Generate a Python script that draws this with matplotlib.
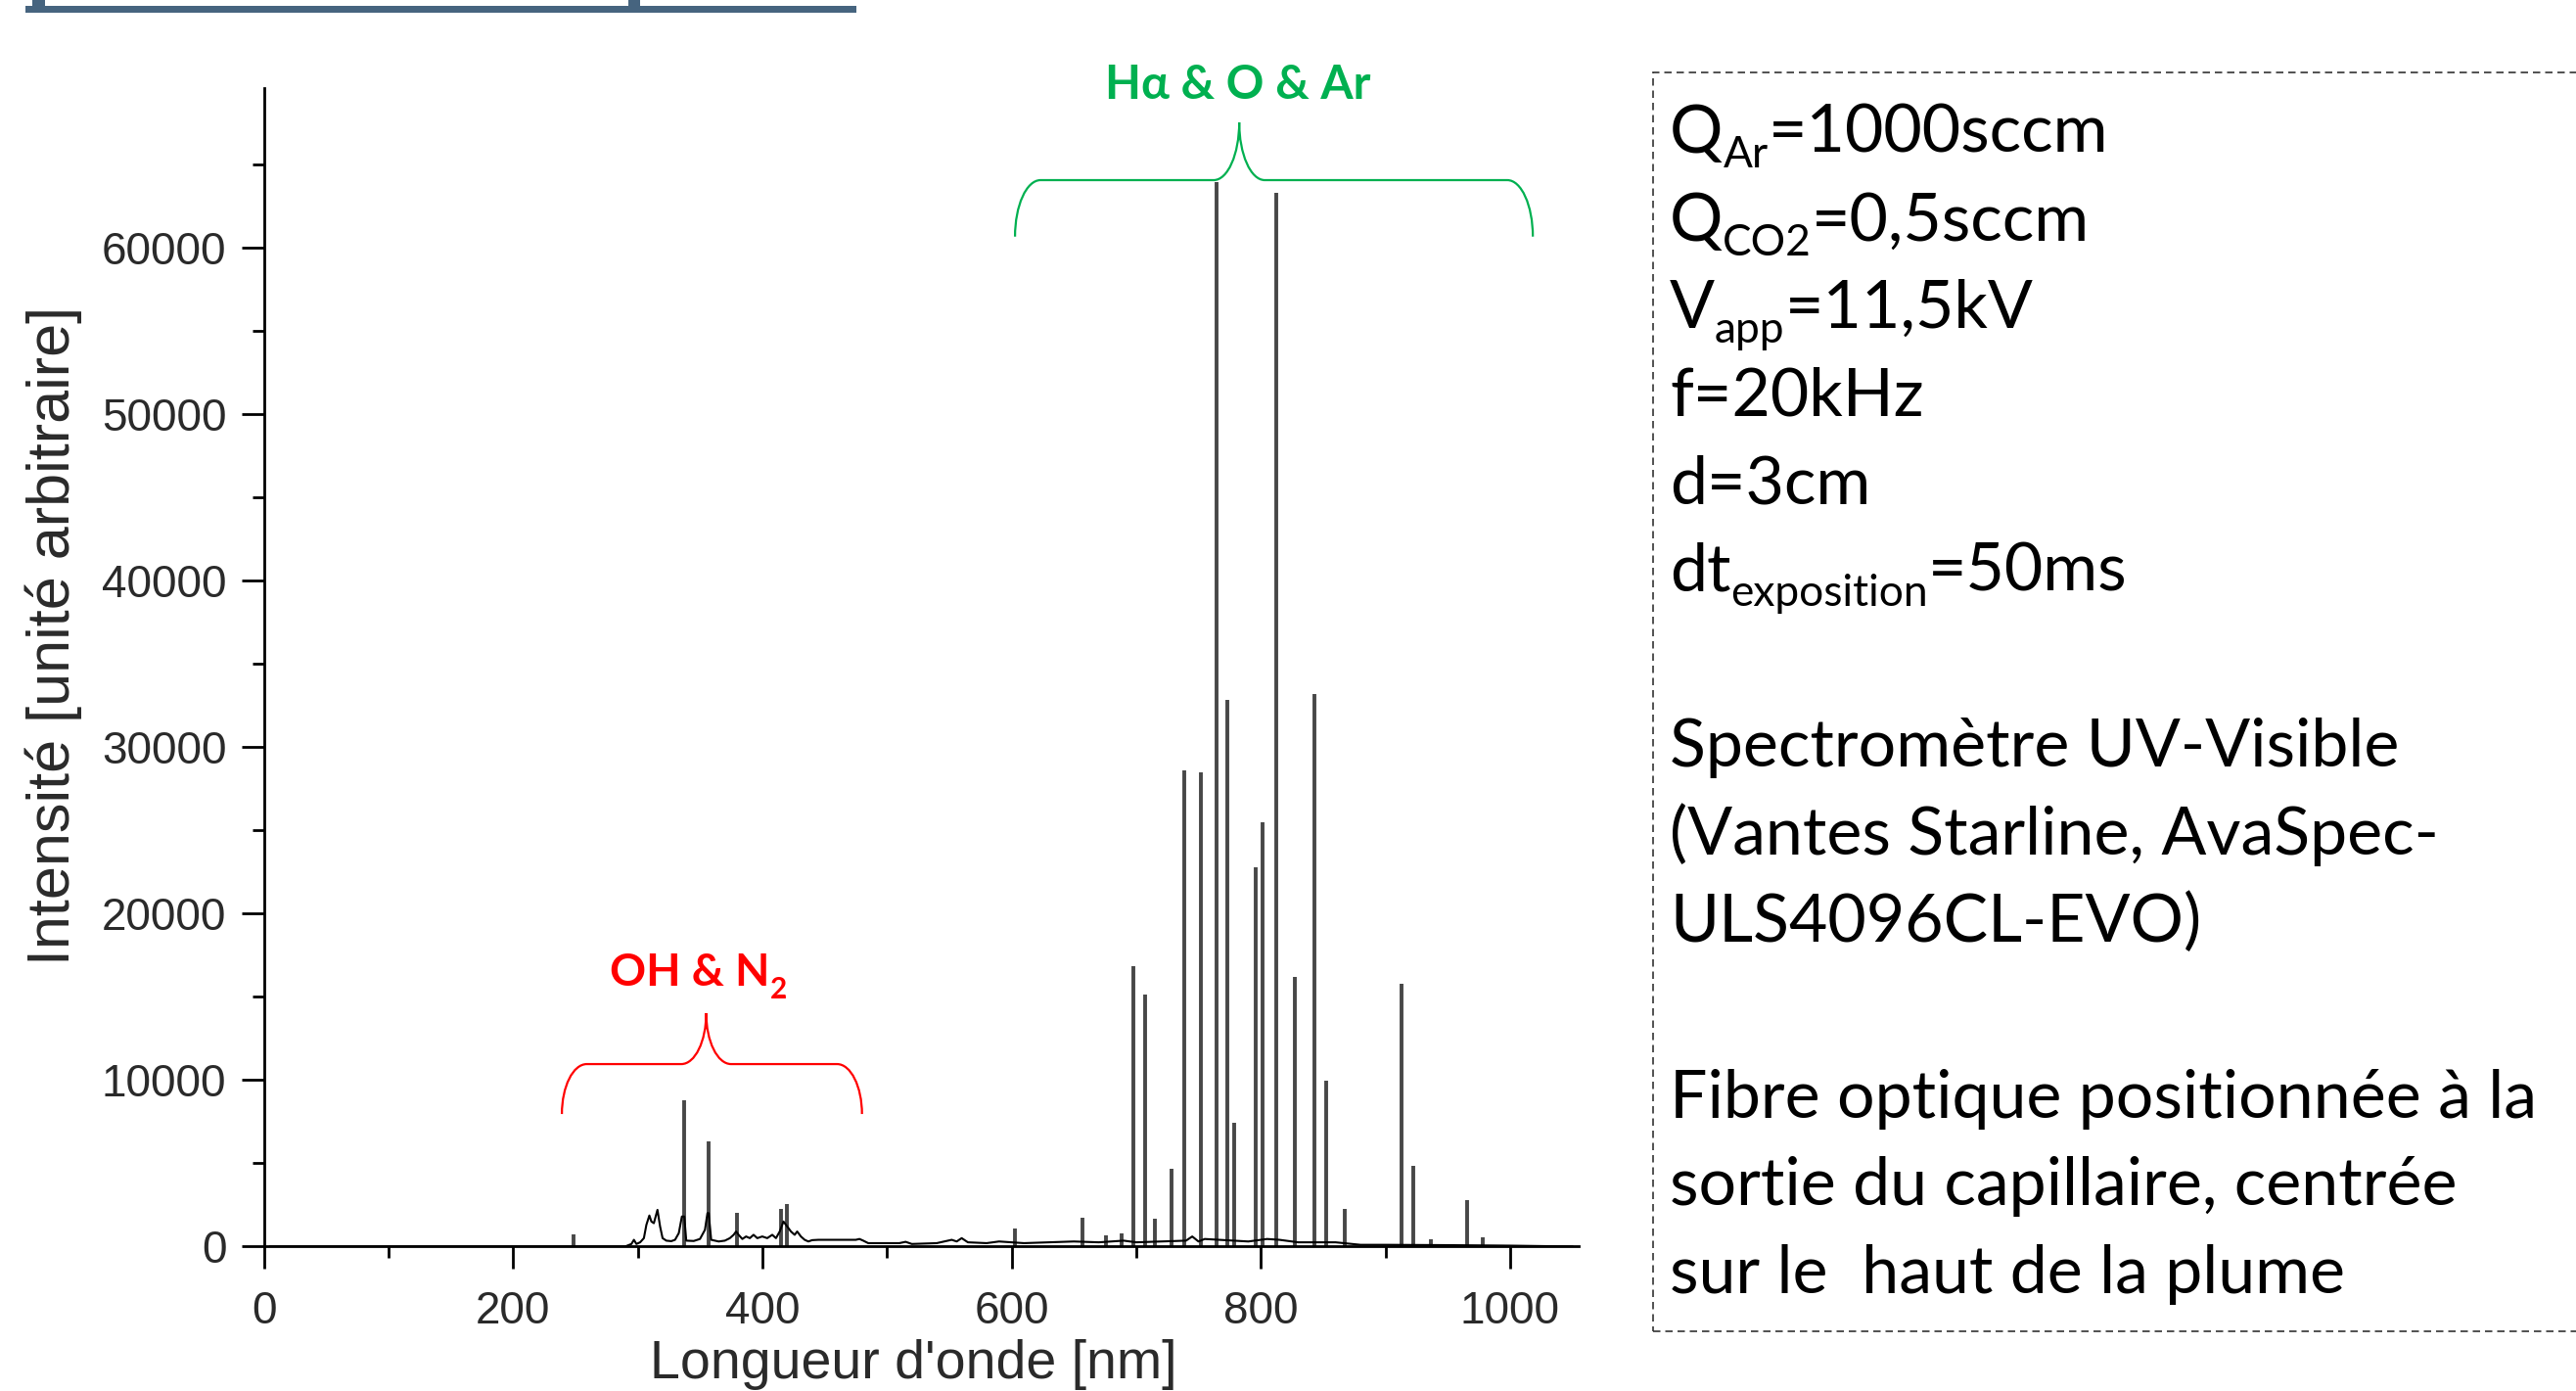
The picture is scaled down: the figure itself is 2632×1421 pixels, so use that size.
import re
import matplotlib.pyplot as plt
from matplotlib.path import Path
from matplotlib.patches import PathPatch, Rectangle

# emission lines (wavelength nm, intensity a.u.)
line_nm = [248.7, 337.4, 357.0, 380.0, 415.4, 419.8, 603.0, 656.8, 676.0, 688.0,
           697.5, 707.0, 715.4, 728.0, 738.8, 751.8, 764.6, 773.5, 778.3, 795.6,
           801.4, 812.1, 827.0, 842.8, 852.6, 867.5, 912.6, 922.4, 936.3, 965.9, 977.8]
line_counts = [725, 8760, 6330, 2000, 2250, 2550, 1090, 1700, 650, 780,
               16850, 15100, 1640, 4670, 28600, 28500, 63950, 32800, 7430, 22770,
               25490, 63290, 16200, 33180, 9940, 2250, 15770, 4840, 430, 2810, 560]

# background and molecular bands (OH, N2)
bg_nm = [5, 240, 290, 295, 297, 299, 302, 305, 307, 309.4, 311, 313, 315.9, 318, 320,
         323, 327, 330, 333, 335.5, 337.4, 339, 345, 350, 354, 356, 357.0, 359, 365,
         370, 374, 377, 379, 381, 384, 387, 390, 393, 396, 400, 404, 408, 411, 414,
         417, 420, 423, 426, 428, 431, 434, 437, 440, 445, 475, 478, 481, 485, 510,
         515, 520, 540, 552, 556, 560, 565, 580, 590, 600, 610, 630, 650, 670, 690,
         700, 720, 740, 745, 750, 755, 790, 805, 815, 830, 860, 880, 900, 950, 1000, 1050]
bg_counts = [0, 0, 0, 150, 400, 150, 250, 500, 1300, 1860, 1500, 1400, 2200, 1200, 500,
             350, 320, 400, 800, 1800, 1800, 350, 330, 450, 1000, 2000, 2000, 400, 300,
             350, 500, 700, 900, 700, 450, 600, 500, 700, 500, 600, 500, 700, 500, 900,
             1500, 1200, 900, 700, 900, 600, 400, 300, 380, 400, 400, 450, 350, 200, 200,
             280, 150, 200, 400, 300, 500, 250, 200, 300, 250, 200, 250, 300, 250, 350,
             250, 300, 350, 600, 300, 450, 300, 450, 400, 250, 250, 100, 100, 80, 50, 0]

x_ticks = [0, 200, 400, 600, 800, 1000]
y_ticks = [0, 10000, 20000, 30000, 40000, 50000, 60000]

conditions = ['Q_{Ar}=1000sccm',
              'Q_{CO2}=0,5sccm',
              'V_{app}=11,5kV',
              'f=20kHz',
              'd=3cm',
              'dt_{exposition}=50ms',
              '',
              'Spectromètre UV-Visible',
              '(Vantes Starline, AvaSpec-',
              'ULS4096CL-EVO)',
              '',
              'Fibre optique positionnée à la',
              'sortie du capillaire, centrée',
              'sur le  haut de la plume']

W, H = 2632, 1421
FONT = ['Lato', 'DejaVu Sans']


def draw_brace(ax, x0, x1, xm, y_end, y_mid, y_tip, dx, color):
    k = 0.552
    verts = [(x0, y_end),
             (x0, y_end + k * (y_mid - y_end)), (x0 + dx * (1 - k), y_mid), (x0 + dx, y_mid),
             (xm - dx, y_mid),
             (xm - dx * (1 - k), y_mid), (xm, y_tip - k * (y_tip - y_mid)), (xm, y_tip),
             (xm, y_tip - k * (y_tip - y_mid)), (xm + dx * (1 - k), y_mid), (xm + dx, y_mid),
             (x1 - dx, y_mid),
             (x1 - dx * (1 - k), y_mid), (x1, y_end + k * (y_mid - y_end)), (x1, y_end)]
    codes = [Path.MOVETO] + [Path.CURVE4] * 3 + [Path.LINETO] + [Path.CURVE4] * 6 \
        + [Path.LINETO] + [Path.CURVE4] * 3
    ax.add_patch(PathPatch(Path(verts, codes), fill=False, edgecolor=color,
                           lw=1.6, clip_on=False))


def sub_text(fig, renderer, x, y_top, txt, size, drop, **kw):
    # text with _{...} subscripts, x / y_top in pixels from the top-left corner
    base = H - y_top
    for part in re.split(r'(_\{[^}]*\})', txt):
        if not part:
            continue
        sub = part.startswith('_{')
        t = fig.text(x / W, (base - drop * sub) / H, part[2:-1] if sub else part,
                     fontsize=size * (0.65 if sub else 1), family=FONT,
                     va='baseline', ha='left', **kw)
        x = t.get_window_extent(renderer).x1


fig = plt.figure(figsize=(W / 100, H / 100), dpi=100)
ax = fig.add_axes([0.1024, 0.1039, 0.5104, 0.8327])
renderer = fig.canvas.get_renderer()

ax.vlines(line_nm, 0, line_counts, color='#474747', lw=2.8)
ax.plot(bg_nm, bg_counts, color='black', lw=1.5)

ax.set_xlim(0, 1055)
ax.set_ylim(0, 69560)
ax.set_xticks(x_ticks)
ax.set_xticks(range(100, 1001, 200), minor=True)
ax.set_yticks(y_ticks)
ax.set_yticks(range(5000, 66000, 10000), minor=True)
for s in ['top', 'right']:
    ax.spines[s].set_visible(False)
for s in ['left', 'bottom']:
    ax.spines[s].set_linewidth(2.0)
ax.tick_params(which='major', length=16.5, width=2.0, labelsize=33,
               labelcolor='#2a2a2a', labelfontfamily='Liberation Sans')
ax.tick_params(which='minor', length=8.6, width=2.0)
ax.tick_params(axis='x', pad=16)
ax.tick_params(axis='y', pad=11)

ax.set_xlabel("Longueur d'onde [nm]", fontsize=40, family='Liberation Sans', color='#2a2a2a')
ax.xaxis.set_label_coords(0.4939, -0.080)
ax.set_ylabel('Intensité [unité arbitraire]', fontsize=44, family='Liberation Sans',
              color='#2a2a2a')
ax.yaxis.set_label_coords(-0.138, 0.527)

# spectral region braces
draw_brace(ax, 239.2, 480.0, 355.0, 7954, 10953, 14010, 20, '#ff0000')
sub_text(fig, renderer, 623, 1007, 'OH & N_{2}', 33, 13, color='#ff0000',
         fontweight='bold')
draw_brace(ax, 602.8, 1018.3, 782.7, 60646, 64039, 67507, 20.5, '#00b050')
ax.text(781.9, 68918, 'Hα & O & Ar', color='#00b050', fontsize=34.5,
        fontweight='bold', family=FONT, ha='center', va='baseline', clip_on=False)

# experimental conditions box
fig.add_artist(Rectangle((1689 / W, 1 - 1360 / H), 0.5, (1360 - 74) / H,
                         transform=fig.transFigure, fill=False, edgecolor='#333333',
                         lw=1.2, linestyle=(0, (4.5, 3))))
for i, txt in enumerate(conditions):
    if txt:
        sub_text(fig, renderer, 1706, 156 + i * 89.6, txt, 49, 15, color='black')

# slide header remnant
bar_color = '#46647f'
fig.add_artist(Rectangle((26 / W, 1 - 13 / H), 849 / W, 7 / H,
                         transform=fig.transFigure, color=bar_color, lw=0))
fig.add_artist(Rectangle((33 / W, 1 - 13 / H), 13 / W, 13 / H,
                         transform=fig.transFigure, color=bar_color, lw=0))
fig.add_artist(Rectangle((642 / W, 1 - 13 / H), 12 / W, 13 / H,
                         transform=fig.transFigure, color=bar_color, lw=0))

fig.savefig('out.png', dpi=100)
